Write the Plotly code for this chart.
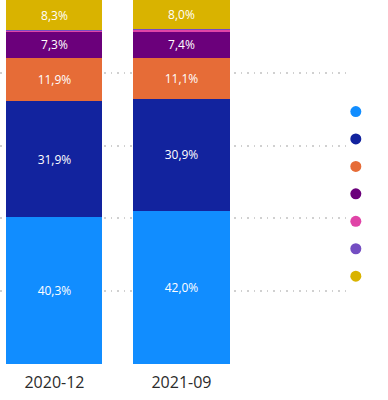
import plotly.graph_objects as go

categories = ["2020-12", "2021-09"]
series_names = ["A", "B", "C", "D", "E", "F", "G"]
light_blue = [40.3, 42.0]
dark_blue = [31.9, 30.9]
orange = [11.9, 11.1]
purple = [7.3, 7.4]
pink = [0.2, 0.4]
violet = [0.1, 0.2]
yellow = [8.3, 8.0]

series_values = [light_blue, dark_blue, orange, purple, pink, violet, yellow]
colors = ["#118DFF", "#12239E", "#E66C37", "#6B007B", "#E044A7", "#744EC2", "#D9B300"]
show_label = [True, True, True, True, False, False, True]

fig = go.Figure()
for name, vals, col, lab in zip(series_names, series_values, colors, show_label):
    fig.add_trace(go.Bar(
        x=categories, y=vals, name=name, marker=dict(color=col, line=dict(width=0)),
        texttemplate="%{y:.1f}%" if lab else "", textposition="inside",
        insidetextanchor="middle", textangle=0, constraintext="none",
        textfont=dict(color="white", size=12, family="Segoe UI, Open Sans, sans-serif"),
        showlegend=False,
    ))
# legend dots
for name, col in zip(series_names, colors):
    fig.add_trace(go.Scatter(
        x=[None], y=[None], mode="markers", name=" ",
        marker=dict(color=col, size=11, symbol="circle"), showlegend=True,
    ))

fig.update_layout(
    barmode="stack", bargap=0.244, separators=",.",
    width=388, height=400, margin=dict(l=0, r=40, t=0, b=36),
    paper_bgcolor="white", plot_bgcolor="white",
    xaxis=dict(type="category", range=[-0.429, 2.311], showgrid=False, showline=False, zeroline=False,
               ticks="", ticklabelstandoff=7,
               tickfont=dict(size=16, color="#2B2B2B", family="Segoe UI, Open Sans, sans-serif")),
    yaxis=dict(range=[0, 100], tickvals=[0, 20, 40, 60, 80, 100], showticklabels=False,
               showgrid=True, gridcolor="#D0D0D0", griddash="1.5px,5px", gridwidth=1.5, zeroline=False),
    legend=dict(x=0.965, xanchor="left", y=0.745, yanchor="top", font=dict(size=18.8),
                bgcolor="rgba(0,0,0,0)", itemwidth=30, traceorder="normal"),
)
fig.write_html("out.html", config={"displayModeBar": False},
               post_script="document.body.style.margin='0';")
